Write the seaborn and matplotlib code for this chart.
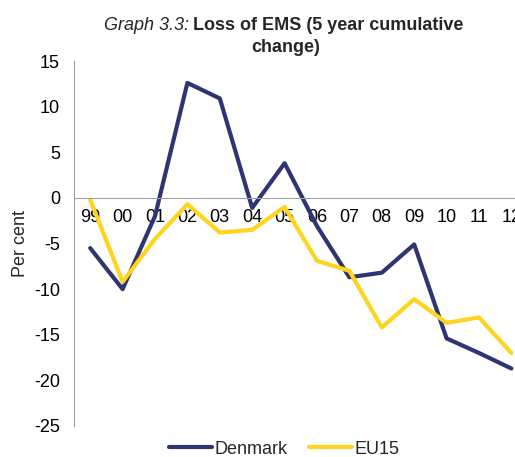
import pandas as pd
import matplotlib.pyplot as plt
import seaborn as sns

# data
years = ["99", "00", "01", "02", "03", "04", "05", "06", "07", "08", "09", "10", "11", "12"]
denmark = [-5.5, -10.0, -2.0, 12.6, 10.9, -1.1, 3.8, -3.1, -8.7, -8.2, -5.1, -15.4, -17.0, -18.7]
eu15 = [-0.2, -9.2, -4.5, -0.7, -3.8, -3.5, -1.0, -6.9, -8.0, -14.2, -11.1, -13.7, -13.1, -17.0]

sns.set_style("white")
plt.rcParams["font.family"] = ["Liberation Sans", "DejaVu Sans"]
plt.rcParams["axes.unicode_minus"] = False

fs = 13

df = pd.DataFrame({
    "pos": list(range(len(years))) * 2,
    "value": denmark + eu15,
    "series": ["Denmark"] * len(years) + ["EU15"] * len(years),
})

fig = plt.figure(figsize=(5.15, 4.57), dpi=100)
ax = fig.add_axes([74 / 515, 1 - 426 / 457, 453.6 / 515, 365 / 457])

sns.lineplot(data=df, x="pos", y="value", hue="series",
             palette={"Denmark": "#2E3572", "EU15": "#FFD41F"},
             linewidth=3, sort=False, ax=ax)

ax.set_xlim(-0.5, len(years) - 0.5)
ax.set_ylim(-25, 15)
ax.set_yticks(range(-25, 16, 5))
ax.set_xticks(range(len(years)))
ax.set_xticklabels(years)
ax.tick_params(axis="both", length=0, labelsize=fs, colors="black")
ax.tick_params(axis="y", pad=10)
ax.tick_params(axis="x", pad=8)

# category axis sits on the zero line
ax.spines["bottom"].set_position(("data", 0))
ax.spines["bottom"].set_color("#A0A0A0")
ax.spines["left"].set_color("#A0A0A0")
ax.spines["top"].set_visible(False)
ax.spines["right"].set_visible(False)
ax.grid(False)

ax.set_xlabel("")
ax.set_ylabel("Per cent", fontsize=fs, labelpad=4)

# title: italic prefix + bold text
fig.text(189 / 515, 1 - 25 / 457, "Graph 3.3:", style="italic", fontsize=fs,
         ha="right", va="center")
fig.text(193 / 515, 1 - 25 / 457, "Loss of EMS (5 year cumulative", fontweight="bold",
         fontsize=fs, ha="left", va="center")
fig.text(286 / 515, 1 - 47 / 457, "change)", fontweight="bold", fontsize=fs,
         ha="center", va="center")

ax.legend(loc="center", bbox_to_anchor=(284 / 515, 8 / 457),
          bbox_transform=fig.transFigure, ncol=2, frameon=False,
          fontsize=fs, handlelength=2.4, handletextpad=0.1, columnspacing=1.2)

fig.savefig("out.png", dpi=100)
